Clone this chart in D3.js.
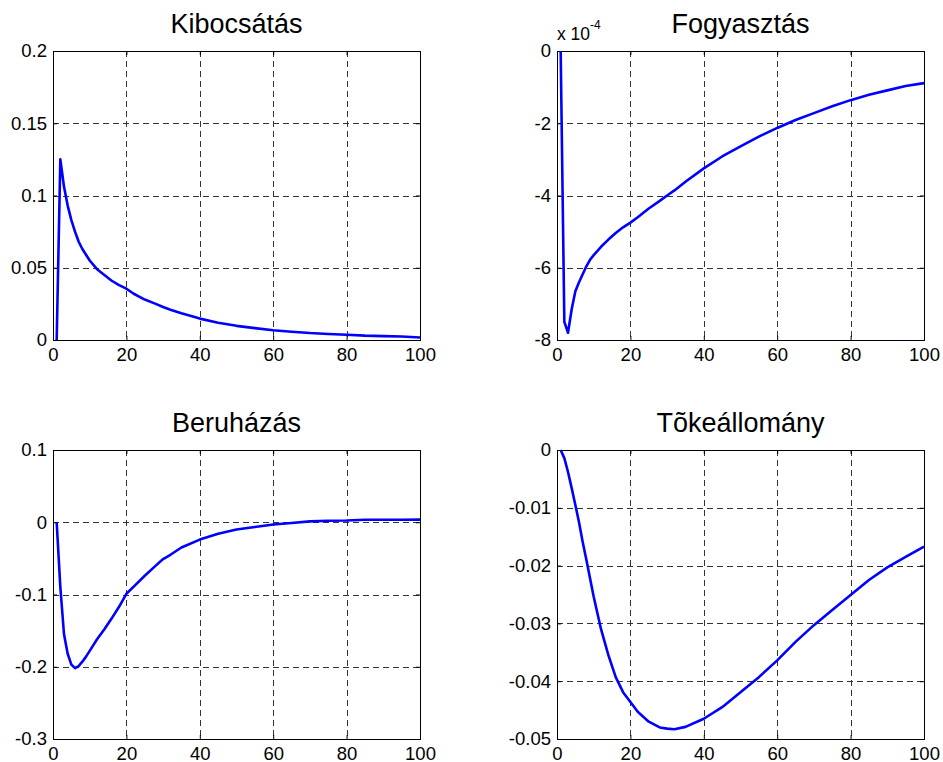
<!DOCTYPE html>
<html lang="hu">
<head>
  <meta charset="UTF-8">
  <title>Impulzusválaszok</title>
  <style>
    * { margin: 0; padding: 0; box-sizing: border-box; }
    body { background: #fff; font-family: "Liberation Sans", Arial, sans-serif; }
    svg { display: block; }
  </style>
</head>
<body>
  <div id="chart"></div>

  <script src="https://d3js.org/d3.v7.min.js"></script>
  <script>
  const periods = [1, 2, 3, 4, 5, 6, 7, 8, 9, 10, 12, 14, 16, 18, 20, 22, 25, 28, 30, 32, 35,
                   40, 45, 50, 55, 60, 65, 70, 75, 80, 85, 90, 95, 100];

  const kibocsatas = [0, 0.125, 0.106, 0.093, 0.083, 0.075, 0.068, 0.063, 0.059, 0.055, 0.049,
                      0.045, 0.041, 0.038, 0.0355, 0.032, 0.028, 0.025, 0.0228, 0.021, 0.0185,
                      0.0148, 0.012, 0.0098, 0.0082, 0.0068, 0.0057, 0.0048, 0.0042, 0.0036,
                      0.003, 0.0027, 0.0024, 0.0017];

  // in units of 10^-4
  const fogyasztas = [0, -7.5, -7.8, -7.15, -6.65, -6.4, -6.18, -5.96, -5.78, -5.65, -5.42,
                      -5.22, -5.04, -4.88, -4.75, -4.6, -4.36, -4.15, -4.0, -3.86, -3.62,
                      -3.25, -2.92, -2.64, -2.37, -2.13, -1.91, -1.72, -1.53, -1.36,
                      -1.21, -1.09, -0.97, -0.89];

  const beruhazas = [0, -0.09, -0.155, -0.182, -0.197, -0.202, -0.199, -0.193, -0.186, -0.178,
                     -0.162, -0.148, -0.133, -0.117, -0.099, -0.089, -0.074, -0.06, -0.051,
                     -0.045, -0.035, -0.024, -0.016, -0.010, -0.0065, -0.0032, -0.001, 0.0012,
                     0.002, 0.0024, 0.0034, 0.0035, 0.0035, 0.0036];

  const tokeallomany = [0, -0.0014, -0.0038, -0.0066, -0.0095, -0.0125, -0.0159, -0.019,
                        -0.0222, -0.0254, -0.031, -0.0355, -0.0393, -0.0419, -0.0436, -0.0453,
                        -0.047, -0.048, -0.0482, -0.0483, -0.0479, -0.0465, -0.0445, -0.0419,
                        -0.0393, -0.0364, -0.0332, -0.0303, -0.0277, -0.0251, -0.0225,
                        -0.0203, -0.0185, -0.0167];

  const titles = ["Kibocsátás", "Fogyasztás", "Beruházás", "Tõkeállomány"];
  const xTicks = [0, 20, 40, 60, 80, 100];
  const yTicks = [
    [0, 0.05, 0.1, 0.15, 0.2],
    [-8, -6, -4, -2, 0],
    [-0.3, -0.2, -0.1, 0, 0.1],
    [-0.05, -0.04, -0.03, -0.02, -0.01, 0]
  ];
  const yDomains = [[0, 0.2], [-8, 0], [-0.3, 0.1], [-0.05, 0]];
  const series = [kibocsatas, fogyasztas, beruhazas, tokeallomany];

  // panel boxes (left, top) in page pixels
  const boxes = [[53, 51], [557, 51], [53, 450], [557, 450]];
  const w = 367, h = 289;

  const svg = d3.select("#chart").append("svg")
    .attr("width", 943)
    .attr("height", 762);

  function drawPanel(i) {
    const g = svg.append("g")
      .attr("transform", "translate(" + boxes[i][0] + "," + boxes[i][1] + ")");

    const x = d3.scaleLinear().domain([0, 100]).range([0, w]);
    const y = d3.scaleLinear().domain(yDomains[i]).range([h, 0]);

    // dashed grid
    g.append("g").selectAll("line")
      .data(xTicks.filter(function(d) { return d > 0 && d < 100; }))
      .enter().append("line")
        .attr("x1", function(d) { return Math.round(x(d)) + 0.5; })
        .attr("x2", function(d) { return Math.round(x(d)) + 0.5; })
        .attr("y1", 0).attr("y2", h)
        .attr("stroke", "#333").attr("stroke-dasharray", "6,4");

    const yd = yDomains[i];
    g.append("g").selectAll("line")
      .data(yTicks[i].filter(function(d) { return d > yd[0] && d < yd[1]; }))
      .enter().append("line")
        .attr("y1", function(d) { return Math.round(y(d)) + 0.5; })
        .attr("y2", function(d) { return Math.round(y(d)) + 0.5; })
        .attr("x1", 0).attr("x2", w)
        .attr("stroke", "#333").attr("stroke-dasharray", "6,4");

    // axes, ticks pointing inwards
    const xAxis = g.append("g")
      .attr("transform", "translate(0," + h + ")")
      .call(d3.axisBottom(x).tickValues(xTicks).tickSize(-4).tickPadding(8).tickFormat(String));
    const xTop = g.append("g")
      .call(d3.axisTop(x).tickValues(xTicks).tickSize(-4).tickFormat(""));
    const yAxis = g.append("g")
      .call(d3.axisLeft(y).tickValues(yTicks[i]).tickSize(-4).tickPadding(6).tickFormat(String));
    const yRight = g.append("g")
      .attr("transform", "translate(" + w + ",0)")
      .call(d3.axisRight(y).tickValues(yTicks[i]).tickSize(-4).tickFormat(""));

    [xAxis, xTop, yAxis, yRight].forEach(function(a) {
      a.select(".domain").remove();
      a.selectAll("line").attr("stroke", "#000");
      a.selectAll("text")
        .attr("fill", "#000")
        .style("font-family", "'Liberation Sans', Arial, sans-serif")
        .style("font-size", "18.5px");
    });

    // frame
    g.append("rect")
      .attr("x", 0.5).attr("y", 0.5)
      .attr("width", w).attr("height", h)
      .attr("fill", "none")
      .attr("stroke", "#000");

    // the response curve
    const line = d3.line()
      .x(function(d) { return x(d[0]); })
      .y(function(d) { return y(d[1]); });

    g.append("path")
      .datum(d3.zip(periods, series[i]))
      .attr("d", line)
      .attr("fill", "none")
      .attr("stroke", "#0000ff")
      .attr("stroke-width", 2.6)
      .attr("stroke-linejoin", "round");

    // title
    g.append("text")
      .attr("x", w / 2)
      .attr("y", -18)
      .attr("text-anchor", "middle")
      .style("font-size", "27px")
      .text(titles[i]);

    // exponent label for consumption
    if (i === 1) {
      const t = g.append("text")
        .attr("x", 0)
        .attr("y", -11)
        .style("font-size", "17.5px");
      t.append("tspan").text("x 10");
      t.append("tspan").attr("dy", -11).style("font-size", "12px").text("-4");
    }
  }

  for (let i = 0; i < 4; i++) drawPanel(i);
  </script>
</body>
</html>
